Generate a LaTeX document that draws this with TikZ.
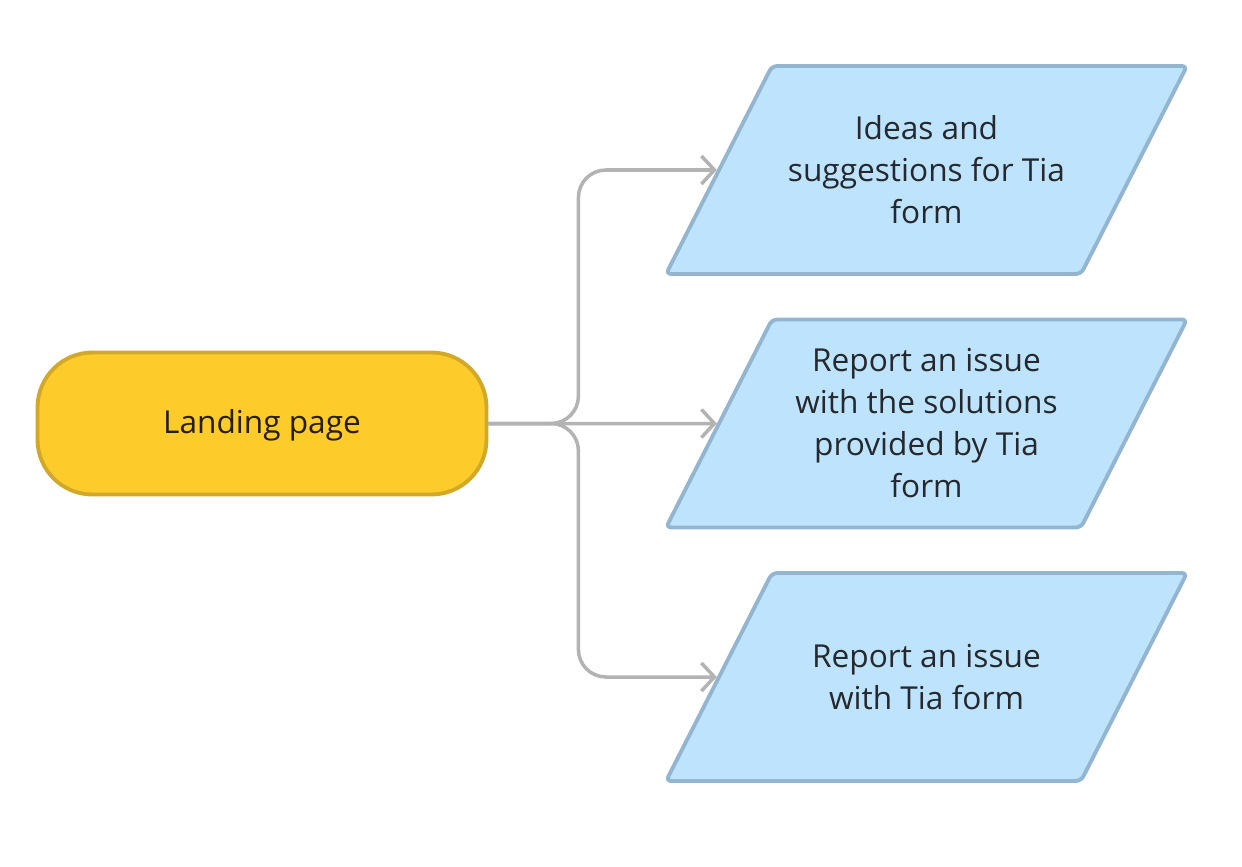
\documentclass[tikz,border=0pt]{standalone}
\usepackage{fontspec}
\setmainfont{Open Sans}
\usepackage{tikz}
\usetikzlibrary{shapes.geometric,arrows.meta,positioning}
\definecolor{padfill}{HTML}{FDCB2A}
\definecolor{paddraw}{HTML}{D2A828}
\definecolor{formfill}{HTML}{BEE3FD}
\definecolor{formdraw}{HTML}{93B5CF}
\definecolor{linkgray}{HTML}{B3B3B3}
\definecolor{inktext}{HTML}{25292E}
\newcommand{\formtext}[1]{\parbox[c][3.6cm][c]{6cm}{\centering #1}}
\tikzstyle{landing} = [rectangle, rounded corners=1.1cm, minimum width=8.98cm, minimum height=2.84cm, text centered, line width=2.2pt, draw=paddraw, fill=padfill, text=black!85!padfill]
\tikzstyle{form} = [trapezium, trapezium left angle=63, trapezium right angle=117, inner xsep=0.09cm, inner ysep=0.28cm, rounded corners=3pt, line width=2.2pt, draw=formdraw, fill=formfill, text=inktext]
\tikzstyle{link} = [line width=2pt, draw=linkgray, rounded corners=0.55cm, -{Straight Barb[length=0.26cm, width=0.56cm]}]

\begin{document}
\begin{tikzpicture}[node distance=5.07cm, font=\fontsize{18}{23.9}\selectfont]
	\useasboundingbox (0,0) rectangle (24.84,-17.34);
	\node (ideas) [form] at (18.53,-3.40) {\formtext{Ideas and\\suggestions for Tia\\form}};
	\node (solutions) [form, below of=ideas] {\formtext{Report an issue\\with the solutions\\provided by Tia\\form}};
	\node (issue) [form, below of=solutions] {\formtext{Report an issue\\with Tia form}};
	\node (land) [landing, left of=solutions, xshift=-8.22cm, text depth=0.1cm] {Landing page};
	\coordinate [right=1.8cm of land.east] (fork);
	\draw [link] (land.east) -- (fork) |- (ideas.west);
	\draw [link] (land.east) -- (solutions.west);
	\draw [link] (land.east) -- (fork) |- (issue.west);
\end{tikzpicture}
\end{document}
